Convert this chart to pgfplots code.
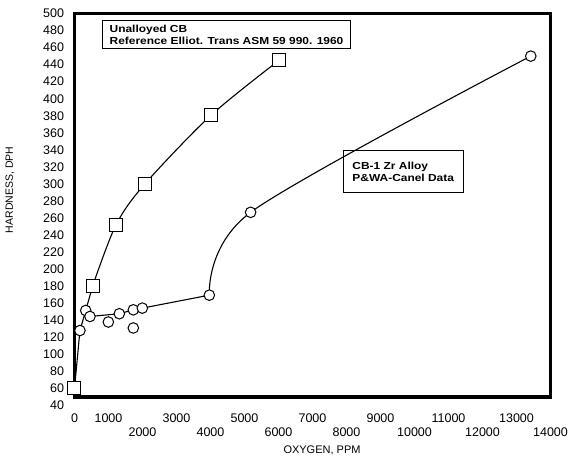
\documentclass[border=0pt]{standalone}
\usepackage{pgfplots}
\pgfplotsset{compat=1.18}
\usepackage{fontspec}
\setmainfont{Liberation Sans}
\newfontfamily\boxfont{Liberation Sans}[FakeStretch=1.17]
\pgfplotsset{
  hardbase/.style={
    scale only axis,
    width=476pt, height=383.5pt,
    xmin=0, xmax=14000, ymin=50, ymax=500,
    clip=false,
    major tick length=0pt,
    scaled x ticks=false, scaled y ticks=false,
    /pgf/number format/1000 sep={},
    /pgf/number format/assume math mode=true,
    tick label style={font=\fontsize{12.5}{14}\selectfont},
  }
}
\begin{document}
\begin{tikzpicture}
\begin{axis}[
  hardbase,
  axis line style={line width=3.3pt},
  xtick={0,1000,3000,5000,7000,9000,11000,13000},
  ytick={60,80,...,500},
  xticklabel style={yshift=-13pt},
  yticklabel style={xshift=-7pt},
  xlabel={OXYGEN, PPM},
  ylabel={HARDNESS, DPH},
  xlabel style={at={(axis description cs:0.52,-0.1395)}, anchor=center, font=\fontsize{11}{13}\selectfont},
  ylabel style={at={(axis description cs:-0.1355,0.54)}, anchor=center, font=\fontsize{10.5}{12}\selectfont},
]
% Unalloyed CB connecting line
\addplot[black, line width=1.1pt, mark=none] coordinates {(0,60) (160,128) (330,151.5) (535,180.4)};
\addplot[black, line width=1.1pt, mark=none, smooth] coordinates {(535,180.4) (1220,252) (2070,300) (4015,380.6) (6015,445)};
% CB-1 Zr alloy line
\addplot[black, line width=1.1pt, mark=none] coordinates {(330,151.5) (455,144.5) (1318,147.7) (1730,152.3) (1995,154.3) (3965,169.5)};
\addplot[black, line width=1.1pt, mark=none, smooth] coordinates {(3965,169.5) (5180,266.7) (13420,450)};
% markers
\addplot[only marks, mark=square*, mark size=6.5pt, mark options={fill=white, draw=black, line width=1pt}]
  coordinates {(0,60) (535,180.4) (1220,252) (2070,300) (4015,380.6) (6015,445)};
\addplot[only marks, mark=*, mark size=5.3pt, mark options={fill=white, draw=black, line width=1pt}]
  coordinates {(160,128) (330,151.5) (455,144.5) (995,138) (1318,147.7) (1730,152.3) (1730,131) (1995,154.3) (3965,169.5) (5180,266.7) (13420,450)};
\node[anchor=east, xshift=-7pt, font=\fontsize{12.5}{14}\selectfont] at (axis cs:0,40) {40};
\node[draw, line width=1.3pt, anchor=north west, align=left, inner xsep=7pt, inner ysep=2pt,
  minimum width=245pt, minimum height=27.5pt, font=\boxfont\bfseries\fontsize{10.2}{12}\selectfont]
  at (axis description cs:0.0578,0.983) {Unalloyed CB\\Reference Elliot. Trans ASM 59 990. 1960};
\node[draw, line width=1.3pt, anchor=north east, align=left, inner xsep=8pt,
  minimum width=120pt, minimum height=42pt, font=\boxfont\bfseries\fontsize{10.2}{12.3}\selectfont]
  at (axis description cs:0.818,0.644) {CB-1 Zr Alloy\\P\&WA-Canel Data};
\coordinate (BL) at (rel axis cs:0,0);
\coordinate (TR) at (rel axis cs:1,1);
\end{axis}
% second row of x tick labels (staggered)
\begin{axis}[
  hardbase,
  axis line style={draw=none},
  xtick={2000,4000,6000,8000,10000,12000,14000},
  ytick=\empty,
  xticklabel style={yshift=-27pt},
]
\end{axis}
\pgfresetboundingbox
\path[use as bounding box] ([shift={(-74.5pt,-61pt)}]BL) rectangle ([shift={(17.5pt,13.5pt)}]TR);
\end{tikzpicture}
\end{document}
